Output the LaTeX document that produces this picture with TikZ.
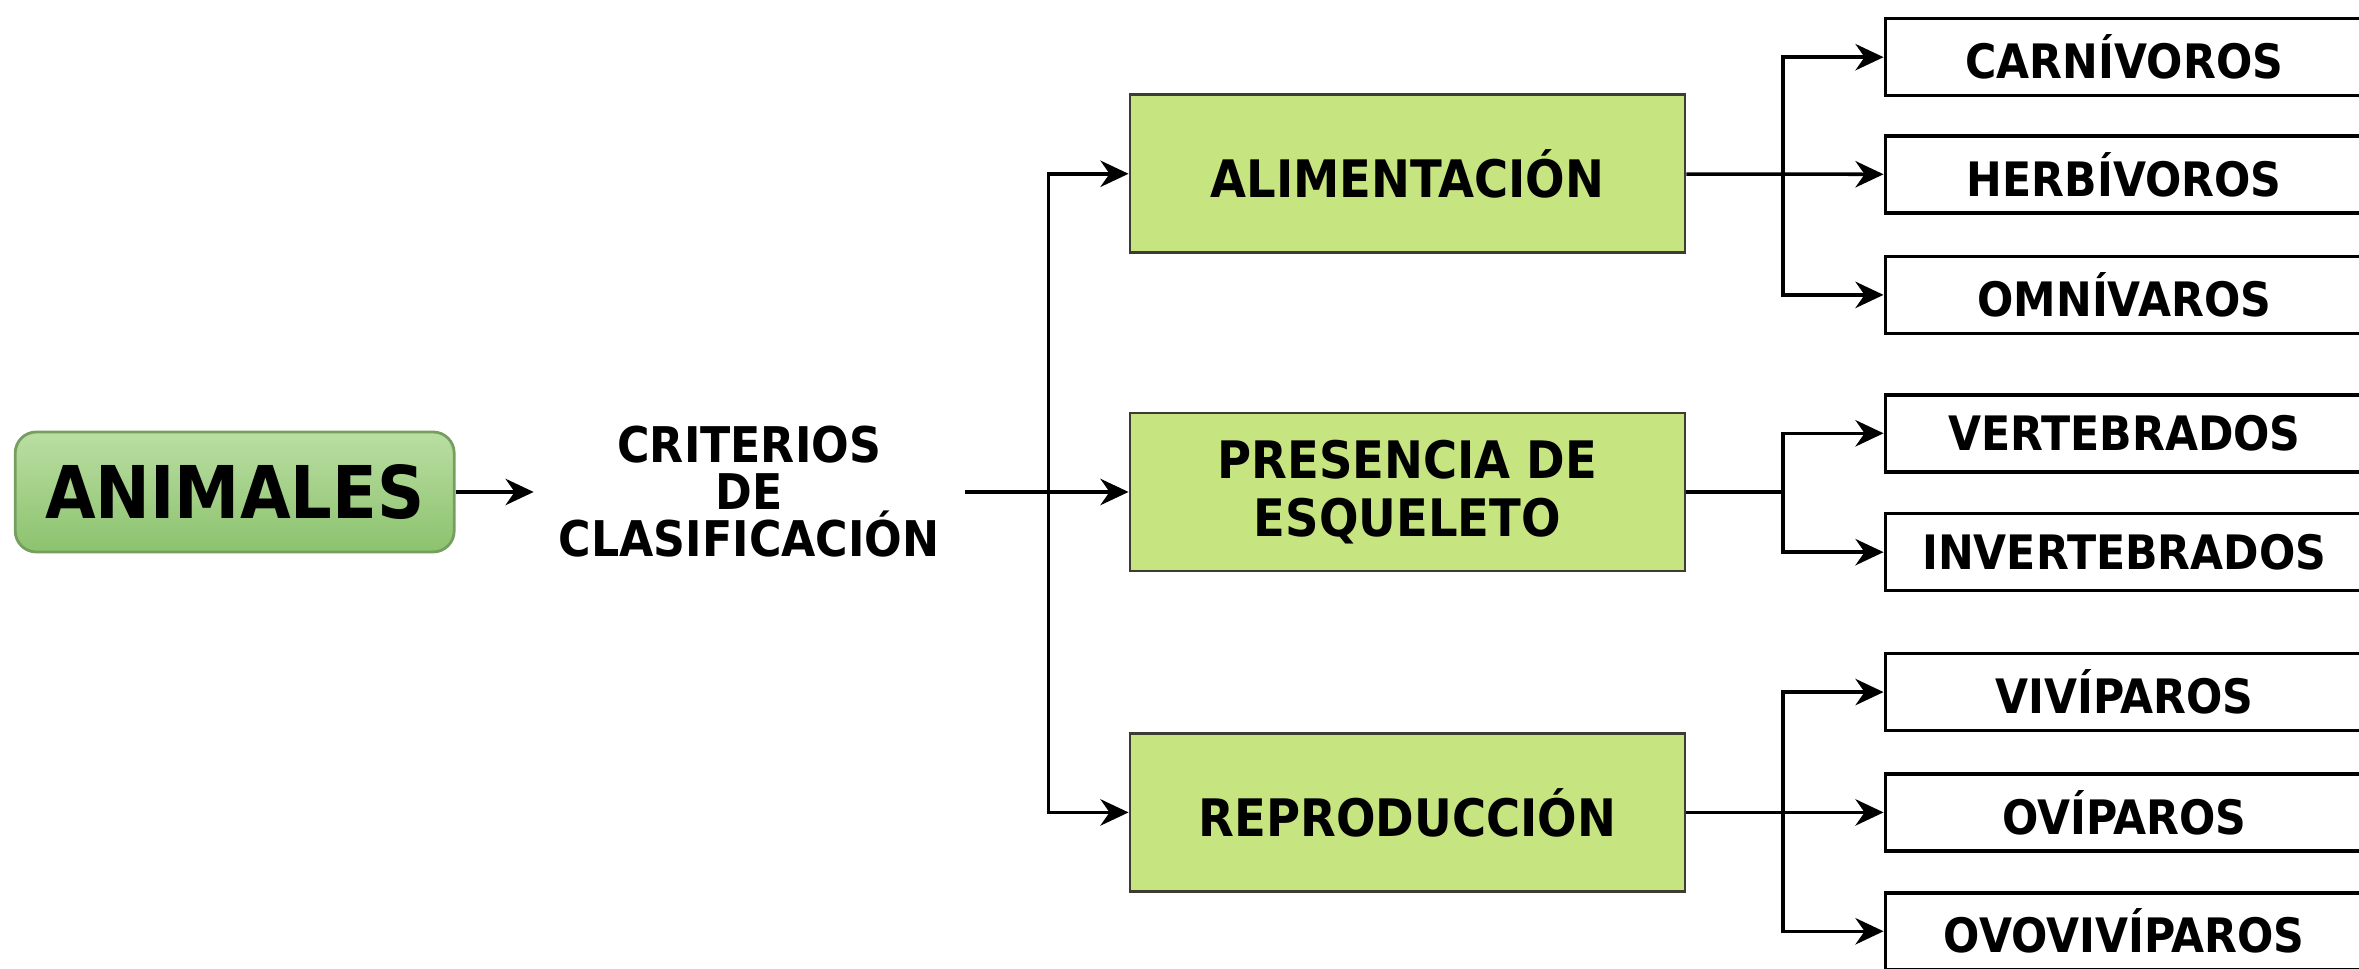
\documentclass[tikz,border=0pt]{standalone}
\usepackage{fontspec}
\setmainfont{DejaVu Sans}[FakeStretch=0.9]
\usetikzlibrary{arrows.meta,positioning}

\definecolor{roottop}{RGB}{186,222,162}
\definecolor{rootbottom}{RGB}{140,194,110}
\definecolor{rootborder}{RGB}{118,158,96}
\definecolor{critgreen}{RGB}{198,228,128}
\definecolor{critborder}{RGB}{60,60,50}

\begin{document}
\begin{tikzpicture}[x=0.015045cm,y=-0.015045cm]
    \tikzstyle{root}=[draw=rootborder, line width=0.8pt, rounded corners=6pt, top color=roottop, bottom color=rootbottom, minimum width=4.39cm, minimum height=1.2cm, font=\fontsize{20.7}{22}\selectfont\bfseries]
    \tikzstyle{label}=[align=center, inner xsep=7pt, font=\fontsize{14}{13.4}\selectfont\bfseries]
    \tikzstyle{criterion}=[draw=critborder, fill=critgreen, line width=0.8pt, minimum width=5.55cm, minimum height=1.58cm, align=center, font=\fontsize{14.7}{16.5}\selectfont\bfseries]
    \tikzstyle{leaf}=[draw, line width=1pt, minimum width=4.78cm, minimum height=0.77cm, font=\fontsize{13.5}{14}\selectfont\bfseries]
    \tikzstyle{wire}=[line width=1pt]
    \tikzstyle{link}=[line width=1pt, -{Stealth[length=8pt,width=7.5pt,inset=2.6pt]}]

    \useasboundingbox (0,0) rectangle (1568,644);
    \clip (0,0) rectangle (1568,644);

    % root and criteria
    \node[root] (animales) at (156,327) {ANIMALES};
    \node[label] (criterios) at (498,327) {CRITERIOS\\DE\\CLASIFICACIÓN};
    \node[criterion] (alim) at (935.5,115.5) {ALIMENTACIÓN};
    \node[criterion] (esq) at (935.5,327) {PRESENCIA DE\\ESQUELETO};
    \node[criterion] (repr) at (935.5,540) {REPRODUCCIÓN};

    % leaves
    \node[leaf] (carn) at (1412,38) {CARNÍVOROS};
    \node[leaf] (herb) at (1412,116) {HERBÍVOROS};
    \node[leaf] (omni) at (1412,196) {OMNÍVAROS};
    \node[leaf] (vert) at (1412,288) {VERTEBRADOS};
    \node[leaf] (inv) at (1412,367) {INVERTEBRADOS};
    \node[leaf] (viv) at (1412,460) {VIVÍPAROS};
    \node[leaf] (ovi) at (1412,540) {OVÍPAROS};
    \node[leaf] (ovo) at (1412,619) {OVOVIVÍPAROS};

    % forks
    \coordinate (critfork) at (697,327);
    \coordinate (alimfork) at (1185,115.5);
    \coordinate (esqfork) at (1185,327);
    \coordinate (reprfork) at (1185,540);

    % connecting wires
    \draw[link] (animales) -- (criterios);
    \draw[link] (criterios) -- (esq);
    \draw[link] (critfork) |- (alim);
    \draw[link] (critfork) |- (repr);

    \draw[link] (alim) -- (herb);
    \draw[link] (alimfork) |- (carn);
    \draw[link] (alimfork) |- (omni);

    \draw[wire] (esq) -- (esqfork);
    \draw[link] (esqfork) |- (vert);
    \draw[link] (esqfork) |- (inv);

    \draw[link] (repr) -- (ovi);
    \draw[link] (reprfork) |- (viv);
    \draw[link] (reprfork) |- (ovo);
\end{tikzpicture}
\end{document}
